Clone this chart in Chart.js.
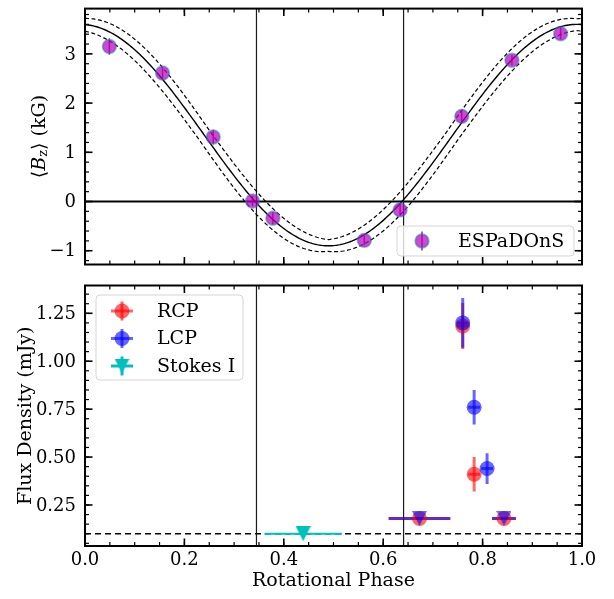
<!DOCTYPE html>
<html>
<head>
<meta charset="utf-8">
<script src="https://cdn.jsdelivr.net/npm/chart.js@4.4.1/dist/chart.umd.min.js"></script>
<style>
  html, body { margin: 0; padding: 0; background: #fff; }
  #wrap { position: relative; width: 614px; height: 599px; }
  canvas { position: absolute; left: 0; }
</style>
</head>
<body>
<div id="wrap">
  <canvas id="bzChart" width="614" height="275" style="top:0px"></canvas>
  <canvas id="fluxChart" width="614" height="324" style="top:275px"></canvas>
</div>
<script>
// ---- Longitudinal field measurements (ESPaDOnS) ----
const espPhase = [0.049, 0.156, 0.258, 0.337, 0.378, 0.562, 0.634, 0.758, 0.859, 0.957];
const espBz    = [3.15, 2.61, 1.31, 0.01, -0.34, -0.79, -0.17, 1.73, 2.87, 3.41];
const espBzErr = [0.17, 0.10, 0.15, 0.10, 0.12, 0.10, 0.12, 0.12, 0.10, 0.12];

// Dipole fit  <Bz> = B0 + B1 cos(2π(φ − φ0)), with 1σ uncertainties
const fitParams = [1.35, 2.25, 0.99];   // B0 (kG), B1 (kG), φ0
const fitSigma  = [0.07, 0.05, 0.012];

// Phases of the <Bz> null
const nullPhases = [0.345, 0.641];

// ---- Radio flux densities ----
const rcpPhase    = [0.673, 0.760, 0.783, 0.843];
const rcpFlux     = [0.18, 1.184, 0.41, 0.18];
const rcpFluxErr  = [0.0, 0.12, 0.09, 0.0];
const rcpPhaseErr = [0.062, 0.012, 0.012, 0.024];

const lcpPhase    = [0.673, 0.760, 0.783, 0.809, 0.843];
const lcpFlux     = [0.18, 1.20, 0.76, 0.44, 0.18];
const lcpFluxErr  = [0.0, 0.13, 0.09, 0.08, 0.0];
const lcpPhaseErr = [0.062, 0.012, 0.012, 0.012, 0.024];
const lcpUpperLimit = [true, false, false, false, true];

const stokesPhase    = [0.439];
const stokesFlux     = [0.10];
const stokesPhaseErr = [0.078];

const noiseLevel = 0.1;   // mJy

// ---- Ticks ----
const phaseTicks = [0.0, 0.2, 0.4, 0.6, 0.8, 1.0];
const bzTicks    = [-1, 0, 1, 2, 3];
const fluxTicks  = [0.25, 0.50, 0.75, 1.00, 1.25];

const FONT = '"DejaVu Serif", "Liberation Serif", serif';
const TICK_FS = 18;
const LABEL_FS = 19;

function pts(xs, ys) { return xs.map((x, i) => ({ x: x, y: ys[i] })); }

// Downward triangle marker sprite, sized like a circle of the same diameter
function triSprite(color, size) {
  const c = document.createElement('canvas');
  c.width = size; c.height = size;
  const g = c.getContext('2d');
  g.fillStyle = color;
  g.beginPath();
  g.moveTo(0, 0); g.lineTo(size, 0); g.lineTo(size / 2, size); g.closePath();
  g.fill();
  return c;
}

// Fit curve and its envelope
function dipole(phi, p) { return p[0] + p[1] * Math.cos(2 * Math.PI * (phi - p[2])); }
const curveX = [];
for (let i = 0; i <= 300; i++) curveX.push(i / 300);
const fitMid = [], fitHi = [], fitLo = [];
curveX.forEach(phi => {
  fitMid.push({ x: phi, y: dipole(phi, fitParams) });
  let hi = -Infinity, lo = Infinity;
  for (const a of [-1, 1]) for (const b of [-1, 1]) for (const c of [-1, 1]) {
    const v = dipole(phi, [fitParams[0] + a * fitSigma[0], fitParams[1] + b * fitSigma[1], fitParams[2] + c * fitSigma[2]]);
    hi = Math.max(hi, v); lo = Math.min(lo, v);
  }
  fitHi.push({ x: phi, y: hi });
  fitLo.push({ x: phi, y: lo });
});

// ---- Plugin: error bars under the markers ----
const errorBars = {
  id: 'errorBars',
  beforeDatasetsDraw(chart) {
    const ctx = chart.ctx, xs = chart.scales.x, ys = chart.scales.y;
    ctx.save();
    ctx.beginPath();
    ctx.rect(chart.chartArea.left, chart.chartArea.top, chart.chartArea.width, chart.chartArea.height);
    ctx.clip();
    chart.data.datasets.forEach(ds => {
      if (!ds.errY && !ds.errX) return;
      ctx.strokeStyle = ds.errColor;
      ctx.lineWidth = ds.errWidth;
      ds.data.forEach((p, i) => {
        const px = xs.getPixelForValue(p.x), py = ys.getPixelForValue(p.y);
        if (ds.errY && ds.errY[i] > 0) {
          ctx.beginPath();
          ctx.moveTo(px, ys.getPixelForValue(p.y - ds.errY[i]));
          ctx.lineTo(px, ys.getPixelForValue(p.y + ds.errY[i]));
          ctx.stroke();
        }
        if (ds.errX && ds.errX[i] > 0) {
          ctx.beginPath();
          ctx.moveTo(xs.getPixelForValue(p.x - ds.errX[i]), py);
          ctx.lineTo(xs.getPixelForValue(p.x + ds.errX[i]), py);
          ctx.stroke();
        }
      });
    });
    ctx.restore();
  }
};

// ---- Plugin: reference lines (drawn before data) ----
const refLines = {
  id: 'refLines',
  beforeDatasetsDraw(chart, args, o) {
    const ctx = chart.ctx, xs = chart.scales.x, ys = chart.scales.y, a = chart.chartArea;
    ctx.save();
    ctx.strokeStyle = '#000';
    if (o.hLine !== undefined) {
      const y = ys.getPixelForValue(o.hLine);
      ctx.lineWidth = o.hWidth;
      ctx.setLineDash(o.hDash || []);
      ctx.beginPath(); ctx.moveTo(a.left, y); ctx.lineTo(a.right, y); ctx.stroke();
      ctx.setLineDash([]);
    }
    ctx.lineWidth = 1.2;
    ctx.strokeStyle = '#1a1a1a';
    nullPhases.forEach(ph => {
      const x = xs.getPixelForValue(ph);
      ctx.beginPath(); ctx.moveTo(x, a.top); ctx.lineTo(x, a.bottom); ctx.stroke();
    });
    ctx.restore();
  }
};

// ---- Plugin: frame, inward ticks, tick labels, axis titles, legend ----
function minorList(min, max, step) {
  const out = [];
  const start = Math.ceil(min / step - 1e-9);
  for (let k = start; k * step <= max + 1e-9; k++) out.push(+(k * step).toFixed(6));
  return out;
}

const frame = {
  id: 'frame',
  afterDraw(chart, args, o) {
    const ctx = chart.ctx, xs = chart.scales.x, ys = chart.scales.y, a = chart.chartArea;
    ctx.save();
    ctx.strokeStyle = '#000';
    const drawX = (vals, len, w) => {
      ctx.lineWidth = w;
      vals.forEach(v => {
        const x = xs.getPixelForValue(v);
        if (x < a.left - 0.5 || x > a.right + 0.5) return;
        ctx.beginPath(); ctx.moveTo(x, a.bottom); ctx.lineTo(x, a.bottom - len); ctx.stroke();
        ctx.beginPath(); ctx.moveTo(x, a.top); ctx.lineTo(x, a.top + len); ctx.stroke();
      });
    };
    const drawY = (vals, len, w) => {
      ctx.lineWidth = w;
      vals.forEach(v => {
        const y = ys.getPixelForValue(v);
        if (y < a.top - 0.5 || y > a.bottom + 0.5) return;
        ctx.beginPath(); ctx.moveTo(a.left, y); ctx.lineTo(a.left + len, y); ctx.stroke();
        ctx.beginPath(); ctx.moveTo(a.right, y); ctx.lineTo(a.right - len, y); ctx.stroke();
      });
    };
    drawX(minorList(0, 1, 0.05), 4, 1.2);
    drawX(phaseTicks, 7.5, 1.6);
    drawY(minorList(ys.min, ys.max, o.yMinor), 4, 1.2);
    drawY(o.yTicks, 7.5, 1.6);
    ctx.lineWidth = 2;
    ctx.strokeRect(a.left, a.top, a.right - a.left, a.bottom - a.top);

    // tick labels
    ctx.fillStyle = '#000';
    ctx.font = TICK_FS + 'px ' + FONT;
    ctx.textAlign = 'right';
    ctx.textBaseline = 'middle';
    o.yTicks.forEach(v => {
      ctx.fillText(o.yFmt(v), a.left - 9, ys.getPixelForValue(v) + 1);
    });
    if (o.xLabels) {
      ctx.textAlign = 'center';
      ctx.textBaseline = 'top';
      phaseTicks.forEach(v => {
        ctx.fillText(v.toFixed(1), xs.getPixelForValue(v), a.bottom + 5);
      });
      ctx.font = LABEL_FS + 'px ' + FONT;
      ctx.fillText('Rotational Phase', (a.left + a.right) / 2, a.bottom + 26);
    }
    // y title
    ctx.save();
    ctx.translate(o.yTitleX, (a.top + a.bottom) / 2);
    ctx.rotate(-Math.PI / 2);
    ctx.textBaseline = 'middle';
    ctx.textAlign = 'left';
    let total = 0;
    o.yTitle.forEach(p => { ctx.font = p.font; total += ctx.measureText(p.t).width; });
    let cx = -total / 2;
    o.yTitle.forEach(p => {
      ctx.font = p.font;
      ctx.fillText(p.t, cx, p.dy || 0);
      cx += ctx.measureText(p.t).width;
    });
    ctx.restore();

    // legend
    const L = o.legend;
    ctx.save();
    ctx.fillStyle = 'rgba(255,255,255,0.8)';
    ctx.strokeStyle = '#d5d5d5';
    ctx.lineWidth = 1;
    ctx.beginPath();
    ctx.roundRect(L.x, L.y, L.w, L.h, 4);
    ctx.fill(); ctx.stroke();
    L.items.forEach((it, i) => {
      const my = L.y + L.first + i * L.gap;
      const mx = L.x + L.markerX;
      ctx.strokeStyle = it.errColor;
      ctx.lineWidth = it.errWidth;
      ctx.beginPath(); ctx.moveTo(mx, my - 9.5); ctx.lineTo(mx, my + 9.5); ctx.stroke();
      if (it.xbar) { ctx.beginPath(); ctx.moveTo(mx - 11, my); ctx.lineTo(mx + 11, my); ctx.stroke(); }
      if (it.sprite) {
        ctx.drawImage(it.sprite, mx - it.sprite.width / 2, my - it.sprite.height / 2);
      } else {
        ctx.fillStyle = it.fill;
        ctx.beginPath();
        ctx.arc(mx, my, it.r, 0, Math.PI * 2);
        ctx.fill();
        if (it.edgeWidth) { ctx.strokeStyle = it.edge; ctx.lineWidth = it.edgeWidth; ctx.stroke(); }
      }
      ctx.fillStyle = '#000';
      ctx.font = LABEL_FS + 'px ' + FONT;
      ctx.textAlign = 'left';
      ctx.textBaseline = 'middle';
      ctx.fillText(it.label, L.x + L.textX, my + 1);
    });
    ctx.restore();
    ctx.restore();
  }
};

const baseScales = (ymin, ymax) => ({
  x: { type: 'linear', min: 0, max: 1, display: false },
  y: { type: 'linear', min: ymin, max: ymax, display: false }
});

// ---- Top panel: <Bz> ----
// (lower `order` is painted later, i.e. on top)
const espFill = 'rgba(191,0,191,0.72)';
const espEdge = 'rgba(31,119,180,0.5)';
const espErrColor = 'rgba(60,45,90,0.85)';
new Chart(document.getElementById('bzChart'), {
  type: 'scatter',
  data: {
    datasets: [
      { order: 3, data: fitHi, showLine: true, pointRadius: 0, borderColor: '#000', borderWidth: 1.2, borderDash: [4, 2.5] },
      { order: 3, data: fitLo, showLine: true, pointRadius: 0, borderColor: '#000', borderWidth: 1.2, borderDash: [4, 2.5] },
      { order: 2, data: fitMid, showLine: true, pointRadius: 0, borderColor: '#000', borderWidth: 1.4 },
      {
        order: 1, label: 'ESPaDOnS', data: pts(espPhase, espBz),
        pointRadius: 6.8, pointBackgroundColor: espFill,
        pointBorderColor: espEdge, pointBorderWidth: 1.8,
        errY: espBzErr, errColor: espErrColor, errWidth: 1.5
      }
    ]
  },
  options: {
    responsive: false, animation: false, events: [],
    layout: { padding: { left: 85, right: 32, top: 3.5, bottom: 10.5 } },
    scales: baseScales(-1.28, 3.92),
    plugins: {
      legend: { display: false }, tooltip: { enabled: false },
      refLines: { hLine: 0, hWidth: 2 },
      frame: {
        yTicks: bzTicks, yMinor: 0.2, xLabels: false,
        yFmt: v => (v < 0 ? '\u2212' + Math.abs(v) : String(v)),
        yTitleX: 40,
        yTitle: [
          { t: '\u27E8', font: LABEL_FS + 'px ' + FONT },
          { t: 'B', font: 'italic ' + LABEL_FS + 'px ' + FONT },
          { t: 'z', font: '13px ' + FONT, dy: 4 },
          { t: '\u27E9 (kG)', font: LABEL_FS + 'px ' + FONT }
        ],
        legend: {
          x: 397, y: 226, w: 177, h: 30, first: 15, gap: 27, markerX: 25, textX: 61,
          items: [{ label: 'ESPaDOnS', r: 6.8, fill: espFill, edge: espEdge, edgeWidth: 1.8, errColor: espErrColor, errWidth: 1.5 }]
        }
      }
    }
  },
  plugins: [refLines, errorBars, frame]
});

// ---- Bottom panel: flux density ----
const rcpColor = 'rgba(255,0,0,0.6)';
const lcpColor = 'rgba(0,0,255,0.6)';
const stokesColor = '#00bfbf';
const lcpTri = triSprite(lcpColor, 15);
const stokesTri = triSprite(stokesColor, 15);
new Chart(document.getElementById('fluxChart'), {
  type: 'scatter',
  data: {
    datasets: [
      {
        order: 1, label: 'Stokes I', data: pts(stokesPhase, stokesFlux),
        pointStyle: stokesTri, pointRadius: 7.5,
        errX: stokesPhaseErr, errColor: stokesColor, errWidth: 2
      },
      {
        order: 3, label: 'RCP', data: pts(rcpPhase, rcpFlux),
        pointStyle: 'circle', pointRadius: 7.5,
        pointBackgroundColor: rcpColor, pointBorderColor: 'rgba(0,0,0,0)', pointBorderWidth: 0,
        errY: rcpFluxErr, errX: rcpPhaseErr, errColor: rcpColor, errWidth: 3
      },
      {
        order: 2, label: 'LCP', data: pts(lcpPhase, lcpFlux),
        pointStyle: (c) => (lcpUpperLimit[c.dataIndex] ? lcpTri : 'circle'),
        pointRadius: 7.5,
        pointBackgroundColor: lcpColor, pointBorderColor: 'rgba(0,0,0,0)', pointBorderWidth: 0,
        errY: lcpFluxErr, errX: lcpPhaseErr, errColor: lcpColor, errWidth: 3
      }
    ]
  },
  options: {
    responsive: false, animation: false, events: [],
    layout: { padding: { left: 85, right: 32, top: 10.5, bottom: 53 } },
    scales: baseScales(0.036, 1.395),
    plugins: {
      legend: { display: false }, tooltip: { enabled: false },
      refLines: { hLine: noiseLevel, hWidth: 1.5, hDash: [6, 4] },
      frame: {
        yTicks: fluxTicks, yMinor: 0.05, xLabels: true,
        yFmt: v => v.toFixed(2),
        yTitleX: 26,
        yTitle: [{ t: 'Flux Density (mJy)', font: LABEL_FS + 'px ' + FONT }],
        legend: {
          x: 96, y: 20, w: 147, h: 85, first: 16, gap: 27.5, markerX: 26, textX: 61,
          items: [
            { label: 'RCP', r: 7.5, fill: rcpColor, errColor: rcpColor, errWidth: 3, xbar: true },
            { label: 'LCP', r: 7.5, fill: lcpColor, errColor: lcpColor, errWidth: 3, xbar: true },
            { label: 'Stokes I', sprite: stokesTri, errColor: stokesColor, errWidth: 3, xbar: true }
          ]
        }
      }
    }
  },
  plugins: [refLines, errorBars, frame]
});
</script>
</body>
</html>
